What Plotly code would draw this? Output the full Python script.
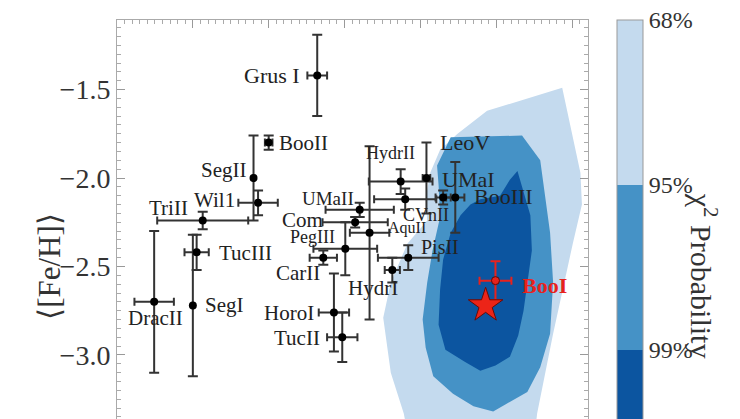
import plotly.graph_objects as go

# ---------------- data ----------------
names = ["Grus I", "BooII", "SegII", "Wil1", "TriII", "TucIII", "DracII", "SegI",
         "HoroI", "TucII", "CarII", "PegIII", "Com", "UMaII", "AquII", "HydrII",
         "LeoV", "CVnII", "UMaI", "BooIII", "PisII", "HydrI"]
x_val = [2.64, 2.00, 1.80, 1.86, 1.13, 1.05, 0.49, 1.00,
         2.86, 2.97, 2.72, 3.01, 3.14, 3.20, 3.33, 3.74,
         4.08, 3.80, 4.30, 4.46, 3.84, 3.63]
x_err = [0.13, 0.05, None, 0.26, 0.60, 0.16, 0.26, None,
         0.20, 0.20, 0.18, 0.42, 0.43, 0.45, 0.26, 0.42,
         0.05, 0.41, 0.10, 0.12, 0.40, 0.10]
feh = [-1.42, -1.80, -2.00, -2.14, -2.24, -2.42, -2.70, -2.72,
       -2.76, -2.90, -2.45, -2.40, -2.25, -2.18, -2.31, -2.02,
       -2.00, -2.12, -2.11, -2.11, -2.45, -2.52]
feh_err = [0.23, 0.04, 0.24, 0.07, 0.05, 0.10, 0.40, 0.40,
           0.22, 0.14, 0.04, 0.15, 0.03, 0.04, 0.49, 0.07,
           0.20, 0.06, 0.04, 0.20, 0.07, 0.07]

# Boo I
boo_name = "BooI"
boo_x = [4.99]
boo_x_err = [0.21]
boo_feh = [-2.58]
boo_feh_err = [0.11]
star_x = [4.86]
star_feh = [-2.72]

# chi^2 probability regions (outline vertices)
c68_x = [5.87, 6.11, 6.13, 6.01, 5.75, 5.54, 5.45, 3.93, 3.78, 3.61, 3.51, 3.61,
         3.83, 4.09, 4.07, 4.13, 4.26, 4.49, 4.88]
c68_y = [-1.49, -1.97, -2.15, -2.37, -2.88, -3.33, -3.65, -3.65, -3.33, -3.10, -2.79, -2.59,
         -2.37, -2.24, -2.12, -1.97, -1.84, -1.75, -1.62]
c95_x = [4.40, 5.34, 5.58, 5.65, 5.71, 5.75, 5.71, 5.58, 5.41, 5.12, 4.96, 4.70,
         4.43, 4.17, 4.07, 4.03, 4.09, 4.16, 4.26, 4.24, 4.22]
c95_y = [-1.77, -1.76, -1.90, -2.12, -2.31, -2.59, -2.88, -3.07, -3.21, -3.28, -3.32, -3.29,
         -3.22, -3.12, -2.96, -2.80, -2.59, -2.41, -2.22, -2.04, -1.93]
c99_x = [5.28, 5.38, 5.45, 5.47, 5.41, 5.36, 5.29, 5.18, 4.99, 4.79, 4.59, 4.33,
         4.24, 4.26, 4.30, 4.40, 4.53, 4.66, 4.79, 5.05, 5.18]
c99_y = [-1.96, -2.10, -2.21, -2.41, -2.59, -2.75, -2.89, -3.01, -3.06, -3.09, -3.04, -2.97,
         -2.83, -2.63, -2.46, -2.31, -2.21, -2.15, -2.12, -2.10, -2.01]

cbar_labels = ["99%", "95%", "68%"]

# label placement (layout)
label_x = [2.05, 2.46, 1.41, 1.29, 0.68, 1.70, 0.51, 1.42,
           2.27, 2.37, 2.38, 2.58, 2.45, 2.78, 3.83, 3.60,
           4.59, 4.08, 4.63, 5.09, 4.26, 3.38]
label_y = [-1.42, -1.80, -1.955, -2.124, -2.17, -2.424, -2.79, -2.718,
           -2.763, -2.904, -2.537, -2.333, -2.237, -2.113, -2.282, -1.859,
           -1.802, -2.209, -2.011, -2.107, -2.39, -2.62]
label_size = [22, 21, 21, 21, 21, 21, 21, 21,
              21, 21, 21, 18, 21, 19, 16, 18,
              22, 18, 22, 22, 20, 21]
boo_label_x = 5.64
boo_label_y = -2.61

# ---------------- colours ----------------
C_LIGHT = "#c4daee"
C_MID = "#4592c6"
C_DARK = "#0c55a0"
SERIF = "Liberation Serif"

fig = go.Figure()

for xs, ys, col in [(c68_x, c68_y, C_LIGHT), (c95_x, c95_y, C_MID), (c99_x, c99_y, C_DARK)]:
    fig.add_trace(go.Scatter(x=xs + xs[:1], y=ys + ys[:1], mode="lines", fill="toself",
                             fillcolor=col, line=dict(width=0, color=col),
                             hoverinfo="skip", showlegend=False))

fig.add_trace(go.Scatter(
    x=x_val, y=feh, mode="markers", text=names, showlegend=False,
    marker=dict(color="black", size=8),
    error_x=dict(type="data", array=x_err, color="#333333", thickness=2, width=4),
    error_y=dict(type="data", array=feh_err, color="#333333", thickness=2, width=5),
))

fig.add_trace(go.Scatter(
    x=boo_x, y=boo_feh, mode="markers", showlegend=False,
    marker=dict(color="#e8221c", size=8, line=dict(color="#5a0a08", width=1)),
    error_x=dict(type="data", array=boo_x_err, color="#e8221c", thickness=2, width=4),
    error_y=dict(type="data", array=boo_feh_err, color="#e8221c", thickness=2, width=5),
))

fig.add_trace(go.Scatter(
    x=star_x, y=star_feh, mode="markers", showlegend=False,
    marker=dict(symbol="star", color="#ec2418", size=26, line=dict(color="#6a0a06", width=1)),
))

# colour bar (dummy trace)
fig.add_trace(go.Scatter(
    x=[None], y=[None], mode="markers", showlegend=False, hoverinfo="skip",
    marker=dict(color=[0], cmin=0, cmax=3, showscale=True,
                colorscale=[[0, C_DARK], [1/3, C_DARK], [1/3, C_MID], [2/3, C_MID],
                            [2/3, C_LIGHT], [1, C_LIGHT]],
                colorbar=dict(x=1.0616, xanchor="left", xpad=0, y=1, yanchor="top", ypad=0,
                              thickness=26, thicknessmode="pixels",
                              len=495, lenmode="pixels",
                              outlinewidth=1, outlinecolor="#999999",
                              tickvals=[1, 2, 3], ticktext=cbar_labels, ticks="",
                              ticklabeloverflow="allow",
                              tickfont=dict(family=SERIF, size=24, color="#333333"))),
))

annotations = []
for n, lx, ly, s in zip(names, label_x, label_y, label_size):
    annotations.append(dict(x=lx, y=ly, xref="x", yref="y", text=n, showarrow=False,
                            font=dict(family=SERIF, size=s, color="#222222"),
                            xanchor="center", yanchor="middle"))
annotations.append(dict(x=boo_label_x, y=boo_label_y, xref="x", yref="y", text="<b>" + boo_name + "</b>",
                        showarrow=False, font=dict(family=SERIF, size=22, color="#e8221c"),
                        xanchor="center", yanchor="middle"))
annotations.append(dict(x=-0.185, y=-2.50, xref="paper", yref="y", text="⟨[Fe/H]⟩",
                        textangle=-90, showarrow=False,
                        font=dict(family=SERIF, size=31, color="#333333")))
annotations.append(dict(x=1.29, y=-2.55, xref="paper", yref="y", text="χ<sup>2</sup> Probability",
                        textangle=90, showarrow=False,
                        font=dict(family=SERIF, size=30, color="#333333")))

fig.update_layout(
    width=732, height=411,
    margin=dict(l=109, r=152, t=12, b=0),
    paper_bgcolor="white", plot_bgcolor="white",
    annotations=annotations,
    xaxis=dict(range=[0, 6.21], side="top", showticklabels=False, ticks="inside",
               ticklen=8, tickcolor="#999999", tick0=0, dtick=1,
               minor=dict(ticks="inside", ticklen=4, dtick=0.1, tickcolor="#aaaaaa"),
               showline=True, linecolor="#aaaaaa", linewidth=1, mirror=True,
               showgrid=False, zeroline=False),
    yaxis=dict(range=[-3.362, -1.107], ticks="inside", ticklen=8, tickcolor="#999999",
               tick0=-3, dtick=0.5, tickformat=".1f",
               minor=dict(ticks="inside", ticklen=4, dtick=0.05, tickcolor="#aaaaaa"),
               tickfont=dict(family=SERIF, size=28, color="#333333"),
               showline=True, linecolor="#aaaaaa", linewidth=1, mirror="allticks",
               showgrid=False, zeroline=False),
)

fig.write_html("out.html")
